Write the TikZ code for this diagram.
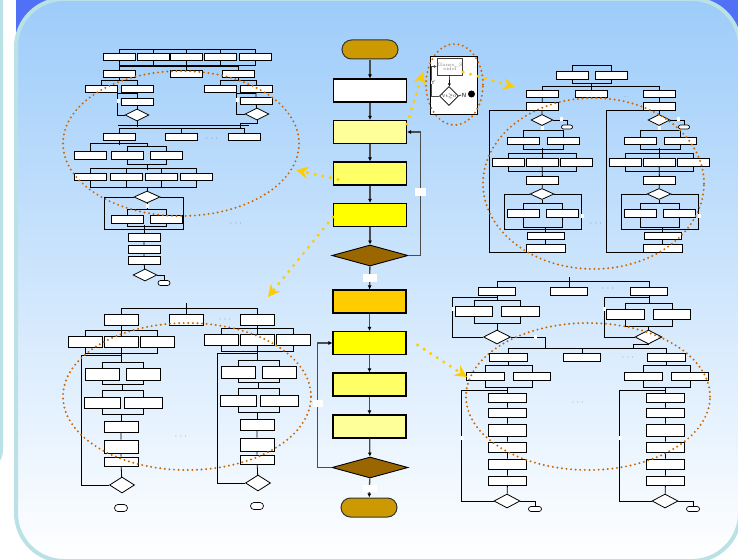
\documentclass[tikz,border=0pt]{standalone}
\usepackage{tikz}
\usetikzlibrary{arrows.meta,shapes,calc}
\definecolor{slideblue}{RGB}{80,112,246}
\definecolor{rimcyan}{RGB}{186,225,229}
\definecolor{skyblue}{RGB}{157,204,250}
\definecolor{termgold}{RGB}{204,153,0}
\definecolor{condbrown}{RGB}{153,102,0}
\definecolor{paleyellow}{RGB}{255,255,153}
\definecolor{midyellow}{RGB}{255,255,102}
\definecolor{fullyellow}{RGB}{255,255,0}
\definecolor{amber}{RGB}{255,204,0}
\definecolor{zoneorange}{RGB}{204,102,0}
\definecolor{hintyellow}{RGB}{255,204,0}
\newcommand{\gfont}{\fontsize{4.8}{5}\selectfont}
\newcommand{\elided}{$\cdot$\hspace{2.5pt}$\cdot$\hspace{2.5pt}$\cdot$}

\tikzset{
  proc/.style={draw=black,line width=1.1pt,minimum width=73pt,minimum height=23pt,inner sep=0pt},
  term/.style={rounded rectangle,draw=black!80,line width=1pt,fill=termgold,minimum width=56pt,minimum height=19pt,inner sep=0pt},
  cond/.style={diamond,draw=black,line width=0.9pt,fill=condbrown,minimum width=76pt,minimum height=21pt,inner sep=0pt},
  flow/.style={draw=black!70,line width=1.3pt,-{Latex[length=4pt,width=4pt,color=black]}},
  lbl/.style={fill=white,minimum width=14pt,minimum height=7.5pt,inner sep=0pt},
  nick/.style={fill=white,minimum width=3pt,minimum height=4pt,inner sep=0pt},
  blk/.style={draw=black,fill=white,line width=0.9pt,minimum width=32pt,minimum height=7.5pt,inner sep=0pt},
  tall/.style={blk,minimum width=34pt,minimum height=11pt},
  broad/.style={blk,minimum width=37.5pt,minimum height=8pt},
  sdec/.style={diamond,draw=black,fill=white,line width=0.8pt,minimum width=24pt,minimum height=12pt,inner sep=0pt},
  sterm/.style={rounded rectangle,draw=black,fill=white,line width=0.7pt,minimum width=12pt,minimum height=5pt,inner sep=0pt},
  wire/.style={draw=black,line width=0.8pt},
  elide/.style={font=\fontsize{8}{8}\selectfont,text=black!65,inner sep=0pt},
  zone/.style={draw=zoneorange,line width=2.2pt,dash pattern=on 0pt off 4.6pt,line cap=round},
  hint/.style={draw=hintyellow,line width=3.4pt,dash pattern=on 0pt off 7.8pt,line cap=round,-{Stealth[length=12pt,width=12pt,inset=4pt]}}
}

\begin{document}
\begin{tikzpicture}[x=1pt,y=-1pt]
\useasboundingbox (0,0) rectangle (738,559);
% backdrop
\fill[white] (0,0) rectangle (738,559);
\fill[slideblue] (16,0) rectangle (738,110);
\draw[rimcyan,line width=3pt,fill=white,rounded corners=20pt] (-60,-40) rectangle (1.5,470);
\draw[rimcyan,line width=4pt,top color=skyblue,bottom color=white,rounded corners=48pt] (16,-1) rectangle (740,561);

% main column
\node[term] (start) at (370,49.5) {};
\node[proc,fill=white] (init) at (370,90.5) {};
\node[proc,fill=paleyellow] (stepA) at (370,132) {};
\node[proc,fill=midyellow] (stepB) at (370,173.5) {};
\node[proc,fill=fullyellow] (stepC) at (370,215) {};
\node[cond] (testA) at (370,255.5) {};
\node[proc,fill=amber] (stepD) at (369.5,301.5) {};
\node[proc,fill=fullyellow] (stepE) at (369.5,343) {};
\node[proc,fill=midyellow] (stepF) at (369.5,384.5) {};
\node[proc,fill=paleyellow] (stepG) at (369.5,426.5) {};
\node[cond] (testB) at (370,467.5) {};
\node[term] (stop) at (369,507.5) {};
\foreach \a/\b in {start/init,init/stepA,stepA/stepB,stepB/stepC,stepC/testA,testA/stepD,stepD/stepE,stepE/stepF,stepF/stepG,stepG/testB,testB/stop}
  \draw[flow] (\a) -- (\b);
\draw[flow] (testA.east) -- ++(12,0) |- (stepA.east);
\draw[flow] (testB.west) -- ++(-14,0) |- (stepE.west);
\node[lbl] (lblA) at (370,278) {};
\node[lbl] (lblB) at (369.5,488.5) {};
\node[lbl,minimum width=11pt] (lblC) at (420.5,192) {};
\node[lbl,minimum width=10pt] (lblD) at (318,403.5) {};

% solver box
\node[draw=black,fill=white,line width=0.9pt,minimum width=47pt,minimum height=58pt,inner sep=0pt] (gbox) at (453.5,85) {};
\node[draw=black!75,line width=0.7pt,minimum width=24pt,minimum height=17pt,inner sep=0pt,font=\gfont,text=black!55,align=center] (gsolve) at (450,66.5) {Gauss\_S\\[-1pt]eidel};
\node[diamond,draw=black,line width=0.7pt,minimum width=18pt,minimum height=19pt,inner sep=0pt,font=\fontsize{4}{4}\selectfont] (gtest) at (449,96) {Vt$\geq$0};
\draw[line width=0.6pt,-{Latex[length=3pt,width=3pt]}] (gsolve) -- (gtest);
\draw[line width=0.6pt,draw=black!70,-{Latex[length=3pt,width=3pt]}] (gtest.west) -- ++(-8,0) |- (gsolve.west);
\node[font=\sffamily\fontsize{6}{6}\selectfont,fill=white,inner sep=0.3pt,text=black!70] (gy) at (433,82) {Y};
\node[font=\sffamily\bfseries\fontsize{6}{6}\selectfont,inner sep=0.3pt,text=black!70] (gn) at (464,95) {N};
\node[circle,fill=black,inner sep=0pt,minimum size=7pt] (gdot) at (471.5,94) {};
\draw[line width=0.6pt] (gtest.east) -- (gn.west);

% top-left sub-chart
\foreach \n/\x in {a/119,b/153,c/186,d/220,e/255}
  \node[blk] (p1\n) at (\x,57) {};
\foreach \n/\x in {a/119,b/186,c/238}
  \node[blk] (p2\n) at (\x,74) {};
\foreach \n/\x in {a/101,b/137,c/220,d/256}
  \node[blk] (p3\n) at (\x,89) {};
\node[blk] (p4a) at (137,102) {};
\node[blk] (p4b) at (256,101) {};
\node[sdec] (p5a) at (137,115) {};
\node[sdec] (p5b) at (257,114) {};
\foreach \n/\x in {a/119,b/181,c/244}
  \node[blk] (p6\n) at (\x,137) {};
\foreach \n/\x in {a/90,b/127,c/166}
  \node[blk] (p7\n) at (\x,155.5) {};
\foreach \n/\x in {a/90,b/126,c/161,d/196}
  \node[blk] (p8\n) at (\x,177) {};
\node[sdec,minimum width=26pt] (p9) at (147,197) {};
\node[blk] (p10a) at (127,219.5) {};
\node[blk] (p10b) at (166,219.5) {};
\foreach \n/\y in {a/237.5,b/249.5,c/260.5}
  \node[blk] (p11\n) at (144,\y) {};
\node[sdec] (p12) at (145,275) {};
\node[sterm] (p13) at (164,283) {};
\node[elide] (p14) at (212,139) {\elided};
\node[elide] (p15) at (236,224) {\elided};
\draw[wire] (p1a.north) -- ++(0,-3) -| (p1e.north);
\draw[wire] (p1a.south) -- ++(0,4) -| (p1e.south);
\foreach \n in {b,c,d} {
  \draw[wire] (p1\n.north) -- ++(0,-3);
  \draw[wire] (p1\n.south) -- ++(0,4);
}
\draw[wire] (p1c.south) -- (p2b.north);
\draw[wire] (p2a.north) -- ++(0,-3) -| (p2c.north);
\draw[wire] (p2a.south) -- ++(0,3);
\draw[wire] (p2c.south) -- ++(0,3);
\draw[wire] (p3a.north) -- ++(0,-4) -| (p3b.north);
\draw[wire] (p3c.north) -- ++(0,-4) -| (p3d.north);
\draw[wire] (p3b) -- (p4a) -- (p5a);
\draw[wire] (p3d) -- (p4b) -- (p5b);
\draw[wire] (p5a.west) -- ++(-7,0) |- (p3b.south);
\draw[wire] (p5b.west) -- ++(-8,0) |- (p3d.south);
\node[nick] (p16) at (118,101) {};
\node[nick] (p17) at (237,100) {};
\draw[wire] (p5a.south) -- ++(0,6);
\draw[wire] (p5b.south) -- ++(0,3) -- ++(-17,0) -- ++(0,5);
\draw[wire] ($(p6a.north)+(-1,-7)$) -- ($(p6c.north)+(5,-7)$);
\draw[wire] (p6a.north) -- ++(0,-4) -| (p6c.north);
\draw[wire] (p6b.north) -- ++(0,-4);
\draw[wire] (p6a.south) -- ++(0,4);
\draw[wire] (p7a.north) -- ++(0,-8) -- ++(57,0) -- ++(0,3);
\draw[wire] (p7b.north) -- ++(0,-5) -| (p7c.north);
\draw[wire] (p7b.south) -- ++(0,5) -| (p7c.south);
\draw[wire] ($(p7b.south)+(20,5)$) -- ++(0,5);
\draw[wire] (p8a.north) -- ++(0,-4) -| (p8d.north);
\draw[wire] (p8a.south) -- ++(0,6) -| (p8d.south);
\foreach \n in {b,c} {
  \draw[wire] (p8\n.north) -- ++(0,-4);
  \draw[wire] (p8\n.south) -- ++(0,6);
}
\draw[wire] (p9.north) -- ++(0,-4);
\draw[wire] (p9.west) -- ++(-29,0) -- ++(0,32) -- ++(79,0) -- ++(0,-32) -- (p9.east);
\draw[wire] (p9.south) -- ++(0,7);
\node[nick] (p18) at (147,206) {};
\draw[wire] (p10a.north) -- ++(0,-6) -| (p10b.north);
\draw[wire] (p10a.south) -- ++(0,3) -| (p10b.south);
\draw[wire] (p11a.north) -- ++(0,-8);
\draw[wire] (p11a) -- (p11b) -- (p11c) -- (p12);
\draw[wire] (p12.east) -| (p13.north);

% top-right sub-chart
\node[blk] (q1a) at (572,75.5) {};
\node[blk] (q1b) at (611,75.5) {};
\foreach \n/\x in {l/542.5,m/591.5,r/659}
  \node[blk] (q2\n) at (\x,94) {};
\node[blk] (q3l) at (542,106.5) {};
\node[blk] (q3r) at (659,106.5) {};
\node[elide,font=\fontsize{4}{4}\selectfont] (q0) at (626,97) {...};
\node[elide] (q00) at (596,224) {\elided};
\draw[wire] (q1a.north) -- ++(0,-6) -| (q1b.north);
\draw[wire] (q1a.south) -- ++(0,4) -| (q1b.south);
\draw[wire] (q2m.north) -- ++(0,-7);
\draw[wire] (q2l.north) -- ++(0,-3) -| (q2r.north);
\foreach \sd/\dx in {l/0,r/117} {
  \node[sdec,minimum width=22pt,minimum height=11pt] (qa\sd) at ({542+\dx},120) {};
  \node[sterm,minimum width=11pt,minimum height=4pt] (qb\sd) at ({567+\dx},127) {};
  \node[blk] (q4\sd1) at ({523.5+\dx},141) {};
  \node[blk] (q4\sd2) at ({563+\dx},141) {};
  \node[blk] (q5\sd1) at ({508.5+\dx},162.5) {};
  \node[blk] (q5\sd2) at ({542+\dx},162.5) {};
  \node[blk] (q5\sd3) at ({576+\dx},162.5) {};
  \node[blk] (q6\sd) at ({542.5+\dx},180.5) {};
  \node[sdec,minimum height=11pt] (qc\sd) at ({542+\dx},194) {};
  \node[blk] (q7\sd1) at ({523+\dx},213.5) {};
  \node[blk] (q7\sd2) at ({562+\dx},213.5) {};
  \node[blk,minimum width=37pt] (q8\sd) at ({545.5+\dx},236) {};
  \node[blk,minimum width=39pt] (q9\sd) at ({545.5+\dx},248.5) {};
  \draw[wire] (q2\sd) -- (q3\sd) -- (qa\sd);
  \draw[wire] (q3\sd.south) -- ++(-53,0) |- (q9\sd.south);
  \draw[wire] (qa\sd.east) -| (qb\sd.north);
  \draw[wire] (qa\sd.south) -- ++(0,5.5);
  \draw[wire] (q4\sd1.north) -- ++(0,-6) -| (q4\sd2.north);
  \draw[wire] (q4\sd1.south) -- ++(0,4) -| (q4\sd2.south);
  \draw[wire] (q5\sd2.north) -- ++(0,-10);
  \draw[wire] (q5\sd1.north) -- ++(0,-5) -| (q5\sd3.north);
  \draw[wire] (q5\sd1.south) -- ++(0,5) -| (q5\sd3.south);
  \draw[wire] (q5\sd2) -- (q6\sd) -- (qc\sd);
  \draw[wire] (qc\sd.west) -| ++(-25,35) -| ++(77,-35) -- (qc\sd.east);
  \draw[wire] (qc\sd.south) -- ++(0,4.5);
  \draw[wire] (q7\sd1.north) -- ++(0,-6) -| (q7\sd2.north);
  \draw[wire] (q7\sd1.south) -- ++(0,10) -| (q7\sd2.south);
  \draw[wire] (q8\sd.north) -- ++(0,-5);
  \draw[wire] (q8\sd) -- (q9\sd);
  \node[nick] (qd\sd) at ({561+\dx},119) {};
  \node[nick] (qe\sd) at ({542+\dx},128) {};
  \node[nick] (qf\sd) at ({582+\dx},216) {};
}

% bottom-left sub-chart
\node[tall] (r1l) at (121,319.5) {};
\node[tall] (r1m) at (186,319.5) {};
\node[tall] (r1r) at (257,319.5) {};
\node[elide] (r0) at (225,320) {\elided};
\node[elide] (r00) at (181,437) {\elided};
\draw[wire] (r1m.north) -- ++(0,-11);
\draw[wire] (r1l.north) -- ++(0,-5) -| (r1r.north);
\foreach \sd/\dx/\dy in {l/0/0,r/136/-2} {
  \node[tall] (r2\sd1) at ({85+\dx},{341.5+\dy}) {};
  \node[tall] (r2\sd2) at ({121+\dx},{341.5+\dy}) {};
  \node[tall] (r2\sd3) at ({157+\dx},{341.5+\dy}) {};
  \node[tall,minimum height=12pt] (r3\sd1) at ({102+\dx},{374+\dy}) {};
  \node[tall,minimum height=12pt] (r3\sd2) at ({143.5+\dx},{374+\dy}) {};
  \node[tall,minimum width=36pt] (r4\sd1) at ({102+\dx},{402.5+\dy}) {};
  \node[tall,minimum width=38pt] (r4\sd2) at ({143+\dx},{402.5+\dy}) {};
  \node[tall] (r5\sd) at ({121+\dx},{426.5+\dy}) {};
  \node[tall,minimum height=13pt] (r6\sd) at ({121+\dx},{446.5+\dy}) {};
  \node[tall,minimum height=9pt] (r7\sd) at ({121+\dx},{461.5+\dy}) {};
  \node[sdec,minimum width=25pt,minimum height=16pt] (ra\sd) at ({122+\dx},{485+\dy}) {};
  \node[sterm,minimum width=13pt,minimum height=7pt] (rb\sd) at ({121+\dx},{508+\dy}) {};
  \draw[wire] (r1\sd.south) -- ++(0,{6+\dy});
  \draw[wire] (r2\sd1.north) -- ++(0,-5) -| (r2\sd3.north);
  \draw[wire] (r2\sd2.north) -- ++(0,-5);
  \draw[wire] (r2\sd1.south) -- ++(0,6) -| (r2\sd3.south);
  \draw[wire] (r2\sd2.south) -- ++(0,16);
  \draw[wire] (r3\sd1.north) -- ++(0,-5) -| (r3\sd2.north);
  \draw[wire] (r3\sd1.south) -- ++(0,4) -| (r3\sd2.south);
  \draw[wire] ($(r3\sd1.south)!0.5!(r3\sd2.south)+(0,4)$) -- ++(0,7);
  \draw[wire] (r4\sd1.north) -- ++(0,-6) -| (r4\sd2.north);
  \draw[wire] (r4\sd1.south) -- ++(0,6) -| (r4\sd2.south);
  \draw[wire] (r5\sd.north) -- ++(0,-7);
  \draw[wire] (r5\sd) -- (r6\sd) -- (r7\sd) -- (ra\sd);
  \draw[wire] (ra\sd.west) -- ++(-27.5,0) |- ++(40,-130);
}

% bottom-right sub-chart
\node[broad] (s1l) at (497,291) {};
\node[broad] (s1m) at (569,291) {};
\node[broad] (s1r) at (649,291) {};
\node[elide] (s0) at (608,289) {\elided};
\node[elide] (s00) at (628,358) {\elided};
\node[elide] (s000) at (578,403) {\elided};
\draw[wire] (s1m.north) -- ++(0,-10);
\draw[wire] (s1l.north) -- ++(0,-5) -| (s1r.north);
\foreach \sd/\dx/\dy in {l/0/0,r/151.5/3} {
  \node[broad,minimum height=10pt] (s2\sd1) at ({474+\dx},{311+\dy}) {};
  \node[broad,minimum height=10pt] (s2\sd2) at ({520.5+\dx},{311+\dy}) {};
  \node[sdec,minimum width=27pt,minimum height=14pt] (sa\sd) at ({497+\dx},337) {};
  \draw[wire] (s1\sd.south) -- ++(0,{6+\dy});
  \draw[wire] (s2\sd1.north) -- ++(0,-5) -| (s2\sd2.north);
  \draw[wire] (s2\sd1.south) -- ++(0,7) -| (s2\sd2.south);
  \draw[wire] (sa\sd.north) -- ++(0,{-7+\dy});
  \draw[wire] (sa\sd.west) -- ++(-30.5,0) |- ($(s1\sd.south)+(0,2)$);
  \node[nick] (sb\sd) at ({453+\dx},309) {};
}
\draw[wire] (sal.east) -- ++(34.5,0) -- ++(0,12);
\draw[wire] (sar.south) -- ++(-15,0) -- ++(0,5);
\node[nick] (sc) at (535,337) {};
\node[broad] (s3l) at (508.5,357) {};
\node[broad] (s3m) at (582,357) {};
\node[broad] (s3r) at (666.5,357) {};
\draw[wire] (s3l.north) -- ++(0,-4) -| (s3r.north);
\draw[wire] (s3m.north) -- ++(0,-4);
\foreach \sd/\dx in {l/0,r/158} {
  \node[broad] (s4\sd1) at ({485.5+\dx},376) {};
  \node[broad] (s4\sd2) at ({532+\dx},376) {};
  \foreach \k/\y/\h in {1/397.5/9,2/412.5/9,3/430/12,4/447/10,5/464/10,6/480.5/9}
    \node[broad,minimum height=\h pt] (sk\sd\k) at ({507.5+\dx},\y) {};
  \node[sdec,minimum width=26pt,minimum height=14pt] (se\sd) at ({507+\dx},501) {};
  \node[sterm,minimum width=13pt,minimum height=5pt] (st\sd) at ({535+\dx},509) {};
  \draw[wire] (s3\sd.south) -- ++(0,5);
  \draw[wire] (s4\sd1.north) -- ++(0,-6) -| (s4\sd2.north);
  \draw[wire] (s4\sd1.south) -- ++(0,7) -| (s4\sd2.south);
  \draw[wire] (sk\sd1.north) -- ++(0,-6);
  \draw[wire] (sk\sd1) -- (sk\sd2) -- (sk\sd3) -- (sk\sd4) -- (sk\sd5) -- (sk\sd6) -- (se\sd);
  \draw[wire] (se\sd.west) -- ++(-32,0) |- ($(sk\sd1.north)+(0,-2)$);
  \draw[wire] (se\sd.east) -| (st\sd.north);
  \node[nick] (sf\sd) at ({462+\dx},438) {};
}

% zones
\draw[zone] (181,143.5) ellipse [x radius=118pt,y radius=72.5pt];
\draw[zone] (593.5,183.5) ellipse [x radius=110.5pt,y radius=85.5pt];
\draw[zone] (187,396.5) ellipse [x radius=124pt,y radius=73.5pt];
\draw[zone] (588,396.5) ellipse [x radius=122pt,y radius=73.5pt];
\draw[zone] (454.5,84.5) ellipse [x radius=28.5pt,y radius=40.5pt];

% pointers
\coordinate (toGauss) at (423,72);
\coordinate (toTR) at (515,87);
\coordinate (toTL) at (296,170);
\coordinate (toBL) at (268,297);
\coordinate (toBR) at (467,377);
\draw[hint] ($(stepA.north east)+(0,4)$) -- (toGauss);
\draw[hint] ($(gsolve.east)+(0,5.5)$) -- (toTR);
\draw[hint] ($(stepB.west)+(5,6)$) -- (toTL);
\draw[hint] ($(stepC.west)+(0,2)$) -- (toBL);
\draw[hint] ($(stepE.east)+(11,2)$) -- (toBR);
\end{tikzpicture}
\end{document}
